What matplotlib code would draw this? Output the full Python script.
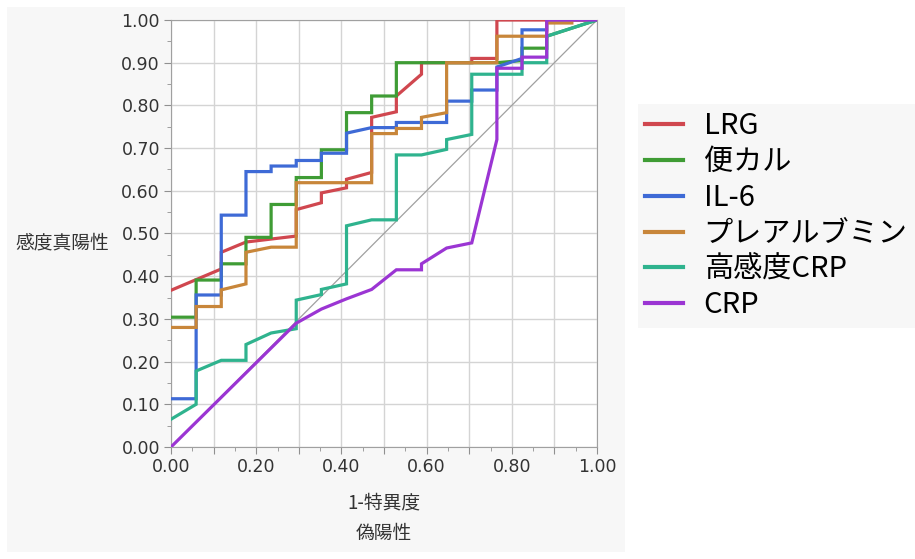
import matplotlib
matplotlib.use('Agg')
import matplotlib.pyplot as plt
from matplotlib.patches import Rectangle
from matplotlib.ticker import MultipleLocator, FuncFormatter

# ROC curves (x = 1-specificity, y = sensitivity)
names = ['LRG', '便カル', 'IL-6', 'プレアルブミン', '高感度CRP', 'CRP']
colors = ['#d0474f', '#3f9c35', '#3e6ad6', '#c8863a', '#2fb38e', '#9b35d3']

lrg_x = [0, 0.059, 0.118, 0.118, 0.176, 0.235, 0.294, 0.294, 0.353, 0.353, 0.412, 0.412, 0.471, 0.471,
         0.529, 0.529, 0.588, 0.588, 0.706, 0.706, 0.765, 0.765, 1.0]
lrg_y = [0.367, 0.392, 0.417, 0.456, 0.48, 0.487, 0.494, 0.556, 0.572, 0.595, 0.607, 0.627, 0.643, 0.772,
         0.785, 0.822, 0.873, 0.9, 0.9, 0.91, 0.91, 1.0, 1.0]

ben_x = [0, 0.059, 0.059, 0.118, 0.118, 0.176, 0.176, 0.235, 0.235, 0.294, 0.294, 0.353, 0.353, 0.412,
         0.412, 0.471, 0.471, 0.529, 0.529, 0.765, 0.824, 0.824, 0.882, 0.882, 1.0]
ben_y = [0.304, 0.304, 0.391, 0.391, 0.429, 0.429, 0.491, 0.491, 0.568, 0.568, 0.631, 0.631, 0.696, 0.696,
         0.783, 0.783, 0.822, 0.822, 0.9, 0.9, 0.905, 0.934, 0.934, 0.962, 1.0]

il6_x = [0, 0.059, 0.059, 0.118, 0.118, 0.176, 0.176, 0.235, 0.235, 0.294, 0.294, 0.353, 0.353, 0.412,
         0.412, 0.471, 0.529, 0.529, 0.647, 0.647, 0.706, 0.706, 0.765, 0.765, 0.824, 0.824, 0.882, 0.882, 1.0]
il6_y = [0.113, 0.113, 0.356, 0.356, 0.543, 0.543, 0.645, 0.645, 0.658, 0.658, 0.671, 0.671, 0.688, 0.688,
         0.735, 0.748, 0.748, 0.76, 0.76, 0.81, 0.81, 0.836, 0.836, 0.89, 0.91, 0.977, 0.977, 1.0, 1.0]

pre_x = [0, 0.059, 0.059, 0.118, 0.118, 0.176, 0.176, 0.235, 0.294, 0.294, 0.471, 0.471, 0.529, 0.529,
         0.588, 0.588, 0.647, 0.647, 0.765, 0.765, 0.882, 0.882, 0.941, 0.941, 1.0]
pre_y = [0.28, 0.28, 0.329, 0.329, 0.368, 0.382, 0.456, 0.468, 0.468, 0.619, 0.619, 0.734, 0.734, 0.746,
         0.746, 0.772, 0.783, 0.9, 0.9, 0.962, 0.962, 0.993, 0.993, 1.0, 1.0]

hs_x = [0, 0.059, 0.059, 0.118, 0.176, 0.176, 0.235, 0.294, 0.294, 0.353, 0.353, 0.412, 0.412, 0.471,
        0.529, 0.529, 0.588, 0.647, 0.647, 0.706, 0.706, 0.824, 0.824, 0.882, 0.882, 1.0]
hs_y = [0.065, 0.1, 0.178, 0.203, 0.203, 0.24, 0.267, 0.277, 0.344, 0.357, 0.369, 0.382, 0.518, 0.532,
        0.532, 0.684, 0.684, 0.697, 0.72, 0.732, 0.873, 0.873, 0.9, 0.9, 0.962, 1.0]

crp_x = [0, 0.294, 0.353, 0.412, 0.471, 0.529, 0.588, 0.588, 0.647, 0.706, 0.765, 0.765, 0.824, 0.824,
         0.882, 0.882, 1.0]
crp_y = [0, 0.29, 0.323, 0.347, 0.369, 0.415, 0.415, 0.429, 0.466, 0.478, 0.72, 0.887, 0.887, 0.913,
         0.913, 1.0, 1.0]

curves = [(lrg_x, lrg_y), (ben_x, ben_y), (il6_x, il6_y), (pre_x, pre_y), (hs_x, hs_y), (crp_x, crp_y)]

W, H = 915, 559
fig = plt.figure(figsize=(W / 100, H / 100), dpi=100, facecolor='white')
fig.patches.append(Rectangle((7 / W, 7 / H), 618 / W, 545 / H, transform=fig.transFigure,
                             facecolor='#f7f7f7', edgecolor='none', zorder=-10))

ax = fig.add_axes([171 / W, 1 - 447 / H, 426 / W, 427 / H])
ax.set_facecolor('white')

ax.plot([0, 1], [0, 1], color='#a0a0a0', lw=0.9, zorder=2)
lines = []
for (x, y), name, c in zip(curves, names, colors):
    ln, = ax.plot(x, y, color=c, lw=2.3, label=name, zorder=3, solid_joinstyle='miter')
    lines.append(ln)

ax.set_xlim(0, 1)
ax.set_ylim(0, 1)
ax.xaxis.set_major_locator(MultipleLocator(0.1))
ax.xaxis.set_minor_locator(MultipleLocator(0.05))
ax.yaxis.set_major_locator(MultipleLocator(0.1))
ax.yaxis.set_minor_locator(MultipleLocator(0.05))
ax.xaxis.set_major_formatter(FuncFormatter(lambda v, p: '%.2f' % v if round(v * 10) % 2 == 0 else ''))
ax.yaxis.set_major_formatter(FuncFormatter(lambda v, p: '%.2f' % v))
ax.grid(True, which='major', color='#d4d4d4', lw=1.0, zorder=1)
ax.tick_params(which='major', length=5, color='#909090', labelsize=12.5, labelcolor='#333333', pad=3)
ax.tick_params(which='minor', length=3, color='#909090')
for s in ax.spines.values():
    s.set_color('#a0a0a0')

jp = ['Noto Sans CJK JP', 'DejaVu Sans']
fig.text(62 / W, 1 - 243 / H, '感度真陽性', family=jp, fontsize=13.5, color='#333333',
         ha='center', va='center')
fig.text(384 / W, 1 - 503 / H, '1-特異度', family=jp, fontsize=13.5, color='#333333',
         ha='center', va='center')
fig.text(384 / W, 1 - 533 / H, '偽陽性', family=jp, fontsize=13.5, color='#333333',
         ha='center', va='center')

leg = fig.legend(handles=lines, labels=names, loc='upper left', bbox_to_anchor=(638 / W, 1 - 104 / H),
                 prop={'family': jp, 'size': 21}, frameon=True, facecolor='#f5f5f5', edgecolor='none',
                 handlelength=1.3, handletextpad=0.7, labelspacing=0.2, borderpad=0.25,
                 borderaxespad=0, fancybox=False)
for h in leg.get_lines():
    h.set_linewidth(3)

fig.savefig('out.png', dpi=100, facecolor=fig.get_facecolor())
